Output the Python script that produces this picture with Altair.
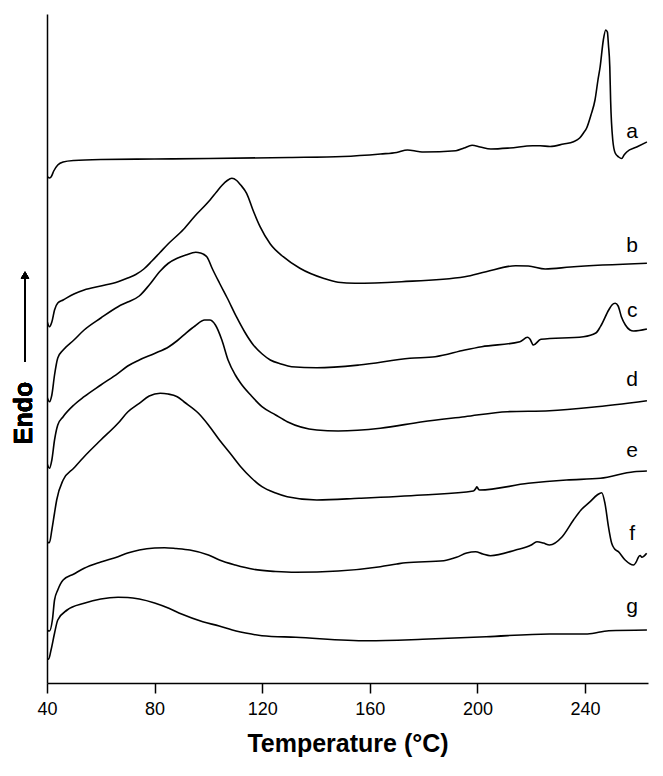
import altair as alt
import pandas as pd

# Temperature (°C) and heat-flow signal (arbitrary units, endo up) for each trace
a_T = [40.0, 40.8, 41.5, 42.5, 44, 46, 50, 60, 80, 100, 130, 150, 164, 170, 174, 178, 180, 192, 195, 198, 201, 205, 212, 220.5, 223.3, 227, 232, 235.7, 238, 239.4, 240.6, 242.2, 243.7, 244.8, 245.6, 246.8, 247.7, 248.3, 248.7, 249.2, 249.5, 250.3, 251.2, 252.5, 253.6, 254.5, 255.5, 259.2, 263]
a_v = [507, 505, 506, 512, 518, 521, 522.5, 523.5, 524, 524.5, 525.5, 526.5, 529, 530.5, 533, 531.5, 531, 532.3, 535, 537.7, 536, 534, 535, 537.3, 537.3, 536.5, 539, 541.3, 545, 550, 555, 568, 583, 603, 616, 643, 653, 651, 638, 616, 583, 543, 530, 526, 524.5, 528, 531, 536, 541]

b_T = [40.0, 40.9, 41.8, 42.8, 44, 46, 50, 53.8, 60, 66.4, 70, 73, 76, 79, 82, 85, 90.7, 95, 100.6, 103, 105, 107, 108.7, 110.5, 112, 114.2, 116.7, 119.2, 123, 127.8, 134, 142.7, 148.2, 154.5, 171.8, 195.3, 203.2, 214.2, 218.9, 225.2, 234.6, 263]
b_v = [362, 356.3, 361, 373, 380, 383, 389, 393, 397, 401.3, 405, 408.5, 414, 422, 430.5, 439, 453.5, 467, 483, 491, 497.5, 502.5, 504.7, 502.5, 498, 489.7, 472, 456.3, 439, 426.3, 414.7, 404.7, 400.7, 399.7, 401.3, 406.3, 411.3, 417.3, 417, 414, 416, 419.7]

c_T = [40.0, 40.9, 41.8, 42.8, 44, 46, 50, 53.8, 60, 66.4, 70, 74.3, 78, 82.1, 85, 88.4, 91.6, 95.3, 97, 99.4, 101.5, 104.1, 107, 110.4, 113.5, 116.7, 120, 123, 127, 130.9, 140.3, 156, 174.9, 184.3, 195.3, 201.6, 215.8, 218.6, 219.5, 220.8, 223.6, 239.4, 244, 245.7, 248.8, 250, 251.2, 252.3, 253.5, 255, 256.7, 258, 263]
c_v = [286.3, 281.3, 288, 308, 325, 333, 343, 353, 365, 376.3, 381, 387, 398, 412, 419.5, 424.7, 428, 430.7, 430, 426.3, 414, 400, 385, 366.3, 351, 338, 329, 323, 319, 316.3, 315.3, 318, 324.7, 326.3, 333, 336.3, 341.3, 345.7, 344, 338, 343.7, 346.3, 350, 356.3, 373, 378, 379.7, 377, 366.3, 358, 353, 352, 354]

d_T = [40.0, 40.9, 41.8, 42.8, 44, 46, 50, 53.8, 60, 66.4, 70, 74.3, 80, 85.3, 88.5, 91.6, 95, 98.6, 100.5, 102.6, 105, 107.3, 110, 112, 116, 119.9, 125, 129.3, 140.3, 148.2, 163.9, 179.6, 195.3, 211.1, 226.8, 242.5, 263]
d_v = [219.7, 214.7, 223, 243, 258, 266.3, 278, 286.3, 298, 309.7, 317, 323, 329.5, 336.3, 342.5, 349.7, 357, 363, 363, 358, 343, 323, 308, 299.7, 287, 276.3, 268, 261.3, 253, 252, 254.7, 261.3, 266.3, 271.3, 272.3, 275.7, 282.3]

e_T = [40.0, 40.9, 41.8, 42.8, 43.6, 46, 50, 53.8, 60, 66.4, 70, 74.3, 78, 82.1, 85, 88.4, 91, 96.3, 100, 104.1, 108, 112, 116, 119.9, 125, 129.3, 140.3, 156, 179.6, 198.5, 199.5, 199.8, 200.3, 200.8, 218.9, 233.1, 245.7, 258.2, 263]
e_v = [141.3, 140.3, 153, 170, 183, 203, 215, 226.3, 243, 259.7, 271, 279.7, 287, 289.7, 289, 286.3, 281, 269.7, 258, 243, 230, 216.3, 205, 196.3, 190, 186.3, 183, 184.7, 188, 192, 195, 196.3, 194, 193, 199.7, 203, 204.7, 211.3, 212]

f_T = [40.0, 40.9, 42, 42.8, 44, 46, 50, 53.8, 60, 66.4, 70, 74.3, 80, 83.7, 88, 93.1, 100, 104.1, 110, 116.7, 125, 132.5, 148.2, 163.9, 170, 173.3, 187.5, 192.2, 196, 199.3, 202, 204.8, 214.2, 220, 222.1, 224.5, 226.8, 231.5, 235.7, 238.5, 241.9, 244.5, 246.2, 247.4, 248.7, 249.9, 251, 252.4, 254.9, 258, 259.2, 259.8, 260.5, 261.1, 262.9]
f_v = [53, 52, 63, 83, 93, 103, 109, 114.7, 121, 126.3, 130, 133, 135, 135.3, 134.5, 133, 128, 123, 118, 113.7, 111.5, 110.7, 112, 116.3, 119, 120.3, 122.3, 125.7, 130, 131.3, 129, 127.3, 133, 138, 141.3, 140, 138, 146.3, 163, 173, 181.3, 188, 190.3, 179.7, 156.3, 139.7, 134, 131.3, 123, 118, 122, 125.7, 127.5, 125.7, 129.7]

g_T = [40.0, 40.6, 41.5, 42.8, 44, 47.5, 53.8, 60, 66.4, 70, 74.3, 80, 85.3, 90, 97.9, 104, 108.9, 116, 119.9, 132.5, 159.2, 179.6, 203.2, 226.8, 240.9, 248.8, 263]
g_v = [24.7, 23.7, 33, 49.7, 63, 73, 79.7, 84, 85.7, 85.5, 84, 80, 74.7, 69, 61.3, 57, 53, 49, 47.3, 45.7, 42.3, 43.7, 46.3, 49, 49, 52.3, 53]

series_names = ["a", "b", "c", "d", "e", "f", "g"]
series_T = [a_T, b_T, c_T, d_T, e_T, f_T, g_T]
series_v = [a_v, b_v, c_v, d_v, e_v, f_v, g_v]

# label anchor (temperature, signal) for each trace letter
label_T = [257.5, 257.5, 257.5, 257.5, 257.5, 257.5, 257.5]
label_v = [544.7, 431.3, 366.3, 297, 226.3, 143, 69.7]

x_ticks = [40, 80, 120, 160, 200, 240]
x_domain = [40, 263.4]
y_domain = [0, 669]

rows = []
for name, ts, vs in zip(series_names, series_T, series_v):
    for i, (t, v) in enumerate(zip(ts, vs)):
        rows.append({"series": name, "T": t, "v": v, "i": i})
df = pd.DataFrame(rows)
lab = pd.DataFrame({"series": series_names, "T": label_T, "v": label_v})

FONT = "Liberation Sans"

x_enc = alt.X(
    "T:Q",
    scale=alt.Scale(domain=x_domain, nice=False, zero=False),
    axis=alt.Axis(
        values=x_ticks,
        title="Temperature (°C)",
        titleFont=FONT,
        titleFontSize=25,
        titleFontWeight="bold",
        titleColor="black",
        titlePadding=13,
        labelFont=FONT,
        labelFontSize=18,
        labelColor="black",
        labelPadding=7,
        tickSize=10,
        tickColor="black",
        tickWidth=1.5,
        domainColor="black",
        domainWidth=1.5,
        grid=False,
        labelFlush=False,
    ),
)
y_enc = alt.Y(
    "v:Q",
    scale=alt.Scale(domain=y_domain, nice=False, zero=False),
    axis=alt.Axis(
        title=None,
        labels=False,
        ticks=False,
        grid=False,
        domainColor="black",
        domainWidth=1.5,
    ),
)

lines = alt.Chart(df).mark_line(
    color="black", strokeWidth=1.6, interpolate="monotone", clip=True
).encode(x=x_enc, y=y_enc, detail="series:N", order="i:Q")

labels = alt.Chart(lab).mark_text(
    font=FONT, fontSize=21, color="black", align="center", baseline="alphabetic"
).encode(x="T:Q", y="v:Q", text="series:N")

arrow_line = alt.Chart(lab).mark_rule(color="black", strokeWidth=1.5).encode(
    x=alt.value(-22), y=alt.value(348), y2=alt.value(262)
)
arrow_head = alt.Chart(lab).mark_point(
    shape="triangle-up", filled=True, color="black", opacity=1, size=70
).encode(x=alt.value(-22), y=alt.value(261))

endo = alt.Chart(lab).mark_text(
    text="Endo", font=FONT, fontSize=25, fontWeight="bold", color="black",
    angle=270, align="center", baseline="middle"
).encode(x=alt.value(-23), y=alt.value(399))

chart = (
    alt.layer(lines, labels, arrow_line, arrow_head, endo)
    .properties(
        width=601,
        height=669,
        autosize=alt.AutoSizeParams(type="none"),
        padding={"left": 39, "top": 6, "right": 7, "bottom": 85},
    )
    .configure_view(stroke=None)
)

chart.save("out.html", embed_options={"renderer": "svg", "actions": False})
